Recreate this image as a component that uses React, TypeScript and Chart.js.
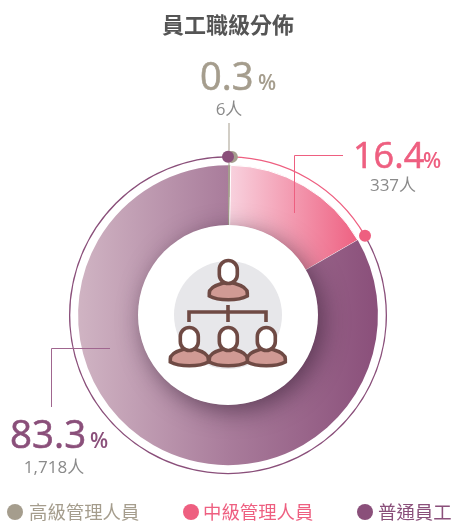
import React, { useEffect, useRef } from "react";
import { Chart, registerables } from "chart.js";

Chart.register(...registerables);

const chartTitle = "員工職級分佈";
const categories = ["高級管理人員", "中級管理人員", "普通員工"];
const headcounts = [6, 337, 1718];
const percentLabels = ["0.3", "16.4", "83.3"];
const countLabels = ["6人", "337人", "1,718人"];
const seriesColors = ["#a59d8d", "#ee5f80", "#8a4f7a"];
const leaderColors = ["#a59d8d", "#ee5f80", "#a0668f"];

const LATIN = '"Open Sans", "Noto Sans CJK TC", sans-serif';
const CJK = '"Noto Sans CJK TC", sans-serif';
const CX = 228;
const CY = 315;

function sliceGradient(ctx: any) {
  const c = ctx.chart.ctx as CanvasRenderingContext2D;
  if (ctx.dataIndex === 0) return seriesColors[0];
  if (ctx.dataIndex === 1) {
    const g = c.createLinearGradient(CX, 0, 360, 0);
    g.addColorStop(0, "#f8d3df");
    g.addColorStop(1, "#ee5f80");
    return g;
  }
  const g = c.createLinearGradient(78, 0, 378, 0);
  g.addColorStop(0, "#d0b4c3");
  g.addColorStop(0.5, "#a97c9b");
  g.addColorStop(1, "#8a4f7a");
  return g;
}

function person(c: CanvasRenderingContext2D, x: number, headY: number, bodyY: number) {
  c.lineWidth = 3.6;
  c.strokeStyle = "#6f4a44";
  c.fillStyle = "#d09a94";
  c.beginPath();
  c.moveTo(x - 19, bodyY + 1);
  c.bezierCurveTo(x - 19, bodyY - 6, x - 8, bodyY - 8, x - 5, bodyY - 9);
  c.lineTo(x + 5, bodyY - 9);
  c.bezierCurveTo(x + 8, bodyY - 8, x + 19, bodyY - 6, x + 19, bodyY + 1);
  c.lineTo(x + 19, bodyY + 4);
  c.bezierCurveTo(x + 10, bodyY + 9, x - 10, bodyY + 9, x - 19, bodyY + 4);
  c.closePath();
  c.fill();
  c.stroke();
  c.fillStyle = "#ffffff";
  c.beginPath();
  c.roundRect(x - 9, headY - 11.5, 18, 23, 9);
  c.fill();
  c.stroke();
}

const decorations = {
  id: "decorations",
  afterDatasetsDraw(chart: any) {
    const c = chart.ctx as CanvasRenderingContext2D;
    const arcs = chart.getDatasetMeta(0).data;
    c.save();

    // centre disc with drop shadow
    c.save();
    c.shadowColor = "rgba(40,20,40,0.55)";
    c.shadowBlur = 24;
    c.shadowOffsetX = 5;
    c.shadowOffsetY = 6;
    c.fillStyle = "#ffffff";
    c.beginPath();
    c.arc(CX, CY, 90, 0, Math.PI * 2);
    c.fill();
    c.restore();

    c.fillStyle = "#e7e7ea";
    c.beginPath();
    c.arc(CX, CY, 54, 0, Math.PI * 2);
    c.fill();

    // org-chart icon
    c.strokeStyle = "#6f4a44";
    c.lineWidth = 3.6;
    c.beginPath();
    c.moveTo(189, 322);
    c.lineTo(189, 312);
    c.lineTo(266, 312);
    c.lineTo(266, 322);
    c.moveTo(228, 305);
    c.lineTo(228, 322);
    c.stroke();
    person(c, 228.3, 272, 292);
    person(c, 189.3, 339, 358);
    person(c, 266.3, 339, 358);
    person(c, 228.3, 339, 358);

    // leader lines
    const leaders: number[][][] = [
      [[229, 123], [229, 197]],
      [[343, 155.5], [294.5, 155.5], [294.5, 213]],
      [[110, 348.5], [51.5, 348.5], [51.5, 407]],
    ];
    leaders.forEach((pts, i) => {
      c.strokeStyle = leaderColors[i];
      c.lineWidth = 1;
      c.beginPath();
      pts.forEach((p, j) => (j ? c.lineTo(p[0], p[1]) : c.moveTo(p[0], p[1])));
      c.stroke();
    });

    // dots at slice ends on the outer ring
    [0, 2, 1].forEach((i) => {
      const a = arcs[i];
      const r = (a.outerRadius + a.innerRadius) / 2;
      const offset = i === 0 ? 1 : 0;
      const ang = a.endAngle;
      c.fillStyle = seriesColors[i];
      c.beginPath();
      c.arc(a.x + Math.cos(ang) * r + offset, a.y + Math.sin(ang) * r, 6, 0, Math.PI * 2);
      c.fill();
    });

    // value labels
    c.textBaseline = "alphabetic";
    const bigX = [200, 353, 10];
    const bigY = [90, 168, 448];
    const bigSize = [38, 36, 38.5];
    const pctX = [258, 423, 90];
    const subX = [229, 393, 54];
    const subY = [115, 191, 473];
    percentLabels.forEach((p, i) => {
      c.fillStyle = seriesColors[i];
      c.strokeStyle = seriesColors[i];
      c.lineWidth = 0.6;
      c.textAlign = "left";
      c.font = `400 ${bigSize[i]}px ${LATIN}`;
      c.fillText(p, bigX[i], bigY[i]);
      c.strokeText(p, bigX[i], bigY[i]);
      c.font = `600 21px ${LATIN}`;
      c.fillText("%", pctX[i], bigY[i]);
      c.fillStyle = "#8a8a8a";
      c.textAlign = "center";
      c.font = `17px ${LATIN}`;
      c.fillText(countLabels[i], subX[i], subY[i]);
    });

    // legend
    const dotX = [15, 191, 365];
    const textX = [29, 203, 378];
    categories.forEach((t, i) => {
      c.fillStyle = seriesColors[i];
      c.beginPath();
      c.arc(dotX[i], 512, 8, 0, Math.PI * 2);
      c.fill();
      c.textAlign = "left";
      c.textBaseline = "middle";
      c.font = `18.4px ${CJK}`;
      c.fillText(t, textX[i], 512);
    });
    c.restore();
  },
};

export default function App() {
  const ref = useRef<HTMLCanvasElement>(null);
  useEffect(() => {
    const chart = new Chart(ref.current as HTMLCanvasElement, {
      type: "doughnut",
      data: {
        labels: categories,
        datasets: [
          {
            data: headcounts,
            weight: 1.3,
            backgroundColor: seriesColors,
            borderWidth: 0,
          },
          {
            data: headcounts,
            weight: 7.7,
            backgroundColor: "rgba(0,0,0,0)",
            borderWidth: 0,
          },
          {
            data: headcounts,
            weight: 60,
            backgroundColor: sliceGradient,
            borderColor: "#ffffff",
            borderWidth: [0, 1, 0],
          },
        ] as any,
      },
      options: {
        responsive: false,
        animation: false,
        radius: 159,
        cutout: 90,
        layout: { padding: { left: 1, right: 0, top: 0, bottom: 46 } },
        plugins: {
          tooltip: { enabled: false },
          legend: { display: false },
          title: {
            display: true,
            text: chartTitle,
            color: "#555555",
            font: { size: 22, weight: "bold", family: CJK },
            padding: { top: 11, bottom: 118 },
          },
        },
      } as any,
      plugins: [decorations],
    });
    return () => chart.destroy();
  }, []);
  return (
    <div style={{ position: "absolute", left: 0, top: 0, width: 455, height: 521 }}>
      <canvas ref={ref} width={455} height={521} style={{ display: "block" }} />
    </div>
  );
}
